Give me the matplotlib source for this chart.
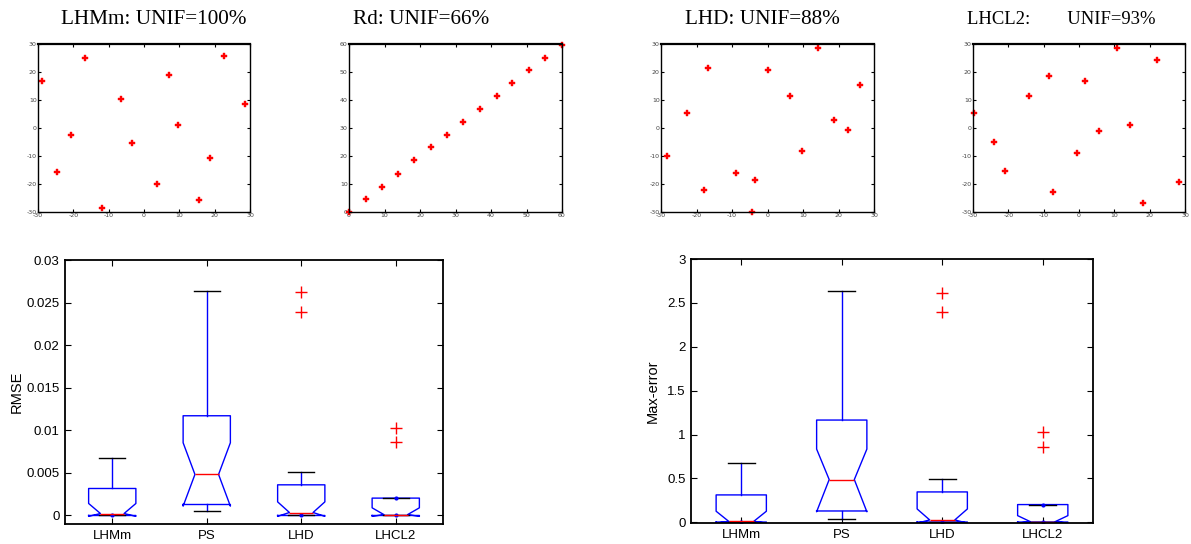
import matplotlib
matplotlib.use("Agg")
import matplotlib.pyplot as plt
import numpy as np

# ---------------- data ----------------
lhmm_x = [-29.0, -16.8, 22.6, 7.1, -6.5, 28.6, 9.7, -20.7, -3.5, 18.8, -24.6, 3.7, 15.6, -11.9]
lhmm_y = [16.7, 25.0, 25.6, 19.1, 10.5, 8.4, 1.1, -2.5, -5.4, -10.8, -15.8, -20.1, -25.6, -28.4]

rd_x = [0.0, 4.7, 9.3, 13.9, 18.4, 23.1, 27.7, 32.2, 36.9, 41.6, 46.0, 50.7, 55.3, 60.0]
rd_y = [0.0, 4.5, 9.1, 13.6, 18.4, 23.1, 27.4, 32.2, 36.7, 41.3, 46.1, 50.6, 55.1, 59.6]

lhd_x = [14.3, -16.7, 0.2, 26.0, 6.2, -22.6, 18.8, 22.8, -28.4, 9.8, -8.8, -3.6, -18.0, -4.5]
lhd_y = [28.4, 21.4, 20.7, 15.2, 11.3, 5.3, 2.9, -0.8, -10.1, -8.1, -15.9, -18.6, -22.0, -30.0]

lhcl2_x = [10.8, 22.1, -8.5, 1.7, -14.2, -29.7, 14.5, 5.7, -24.1, -0.6, -21.0, -7.4, 18.2, 28.2]
lhcl2_y = [28.4, 24.2, 18.5, 16.8, 11.3, 5.5, 1.0, -1.1, -5.1, -9.1, -15.2, -23.0, -26.8, -19.3]

scatter_titles = ["LHMm: UNIF=100%", "Rd: UNIF=66%", "LHD: UNIF=88%", "LHCL2:        UNIF=93%"]

methods = ["LHMm", "PS", "LHD", "LHCL2"]

# RMSE box statistics
rmse_q1 = [0.0, 0.00129, 0.0, 0.0]
rmse_med = [0.00023, 0.00482, 0.00035, 0.0001]
rmse_q3 = [0.00317, 0.01171, 0.0036, 0.00204]
rmse_cilo = [-0.0001, 0.0011, -0.0001, -0.0001]
rmse_cihi = [0.00141, 0.00854, 0.0016, 0.0009]
rmse_whislo = [0.0, 0.00051, 0.0, 0.0]
rmse_whishi = [0.0067, 0.02632, 0.00505, 0.00204]
rmse_fliers = [[], [], [0.0262, 0.0239], [0.0103, 0.0086]]

# Max-error box statistics
maxe_q1 = [0.003, 0.129, 0.003, 0.003]
maxe_med = [0.011, 0.487, 0.027, 0.008]
maxe_q3 = [0.312, 1.165, 0.346, 0.202]
maxe_cilo = [-0.01, 0.12, -0.01, -0.01]
maxe_cihi = [0.126, 0.834, 0.152, 0.076]
maxe_whislo = [0.003, 0.042, 0.003, 0.003]
maxe_whishi = [0.67, 2.63, 0.499, 0.202]
maxe_fliers = [[], [], [2.615, 2.394], [1.028, 0.853]]

# ---------------- figure ----------------
W, H = 1191, 544
fig = plt.figure(figsize=(W / 100, H / 100), dpi=100)
fig.patch.set_facecolor("white")

SANS = ["Liberation Sans", "DejaVu Sans"]


def px_axes(x0, x1, y0, y1):
    return fig.add_axes([x0 / W, 1 - y1 / H, (x1 - x0) / W, (y1 - y0) / H])


def style_axes(ax, lw=1.3):
    for s in ax.spines.values():
        s.set_linewidth(lw)
        s.set_color("black")
    ax.tick_params(direction="in", top=True, right=True, length=3, width=0.8)


scatter_boxes = [(38, 250), (349, 562), (661, 874), (973, 1185)]
scatter_data = [(lhmm_x, lhmm_y), (rd_x, rd_y), (lhd_x, lhd_y), (lhcl2_x, lhcl2_y)]
title_left = [61, 353, 685, 967]
title_size = [15.3, 15.3, 15.3, 13.4]

for i, ((x0, x1), (xs, ys)) in enumerate(zip(scatter_boxes, scatter_data)):
    ax = px_axes(x0, x1, 44, 212)
    ax.plot(xs, ys, linestyle="none", marker="P", color="red", markersize=4.2,
            markeredgewidth=0.3, clip_on=False)
    if i == 1:
        ax.set_xlim(0, 60)
        ax.set_ylim(0, 60)
        ticks = np.arange(0, 61, 10)
    else:
        ax.set_xlim(-30, 30)
        ax.set_ylim(-30, 30)
        ticks = np.arange(-30, 31, 10)
    ax.set_xticks(ticks)
    ax.set_yticks(ticks)
    ax.set_xticklabels([str(t) for t in ticks])
    ax.set_yticklabels([str(t) for t in ticks])
    style_axes(ax, lw=1.0)
    ax.spines["top"].set_linewidth(1.6)
    ax.tick_params(labelsize=4.5, labelcolor="#444444", length=2, pad=1)
    fig.text(title_left[i] / W, 1 - 19 / H, scatter_titles[i], ha="left", va="center",
             fontsize=title_size[i], family="Liberation Serif", color="black")


def make_stats(q1, med, q3, cilo, cihi, wlo, whi, fl):
    stats = []
    for k in range(len(methods)):
        stats.append(dict(label=methods[k], q1=q1[k], med=med[k], q3=q3[k],
                          cilo=cilo[k], cihi=cihi[k], whislo=wlo[k], whishi=whi[k],
                          fliers=fl[k]))
    return stats


def draw_box(ax, stats, ylim, yticks, ytlabels, ylabel, labelpad):
    pos = np.arange(1, len(methods) + 1)
    ax.bxp(stats, positions=pos, widths=0.5, shownotches=True, showfliers=True,
           boxprops=dict(color="blue", linewidth=1.0),
           medianprops=dict(color="red", linewidth=1.0),
           whiskerprops=dict(color="blue", linewidth=1.0),
           capprops=dict(color="black", linewidth=1.0),
           capwidths=0.27,
           flierprops=dict(marker="+", markeredgecolor="red", markersize=8,
                           markeredgewidth=1.0, linestyle="none"))
    # zero-length whiskers show as small dots
    for k, s in enumerate(stats):
        if s["whislo"] >= s["q1"]:
            ax.plot(pos[k], s["whislo"], marker="o", color="blue", markersize=2)
        if s["whishi"] <= s["q3"]:
            ax.plot(pos[k], s["whishi"], marker="o", color="blue", markersize=2)
    ax.set_xlim(0.5, 4.5)
    ax.set_ylim(*ylim)
    ax.set_yticks(yticks)
    ax.set_yticklabels(ytlabels)
    ax.set_xticks(pos)
    ax.set_xticklabels(methods)
    style_axes(ax, lw=1.3)
    ax.tick_params(labelsize=9.5, pad=4, length=4)
    for lab in ax.get_xticklabels() + ax.get_yticklabels():
        lab.set_family(SANS)
    ax.set_ylabel(ylabel, fontsize=10.5, family="Liberation Sans", labelpad=labelpad)


ax1 = px_axes(65, 443, 260, 524)
draw_box(ax1, make_stats(rmse_q1, rmse_med, rmse_q3, rmse_cilo, rmse_cihi,
                         rmse_whislo, rmse_whishi, rmse_fliers),
         (-0.001, 0.03), [0, 0.005, 0.01, 0.015, 0.02, 0.025, 0.03],
         ["0", "0.005", "0.01", "0.015", "0.02", "0.025", "0.03"], "RMSE", 2)

ax2 = px_axes(691, 1093, 259, 523)
draw_box(ax2, make_stats(maxe_q1, maxe_med, maxe_q3, maxe_cilo, maxe_cihi,
                         maxe_whislo, maxe_whishi, maxe_fliers),
         (-0.008, 3.0), [0, 0.5, 1, 1.5, 2, 2.5, 3],
         ["0", "0.5", "1", "1.5", "2", "2.5", "3"], "Max-error", 5)

fig.savefig("out.png", dpi=100)
